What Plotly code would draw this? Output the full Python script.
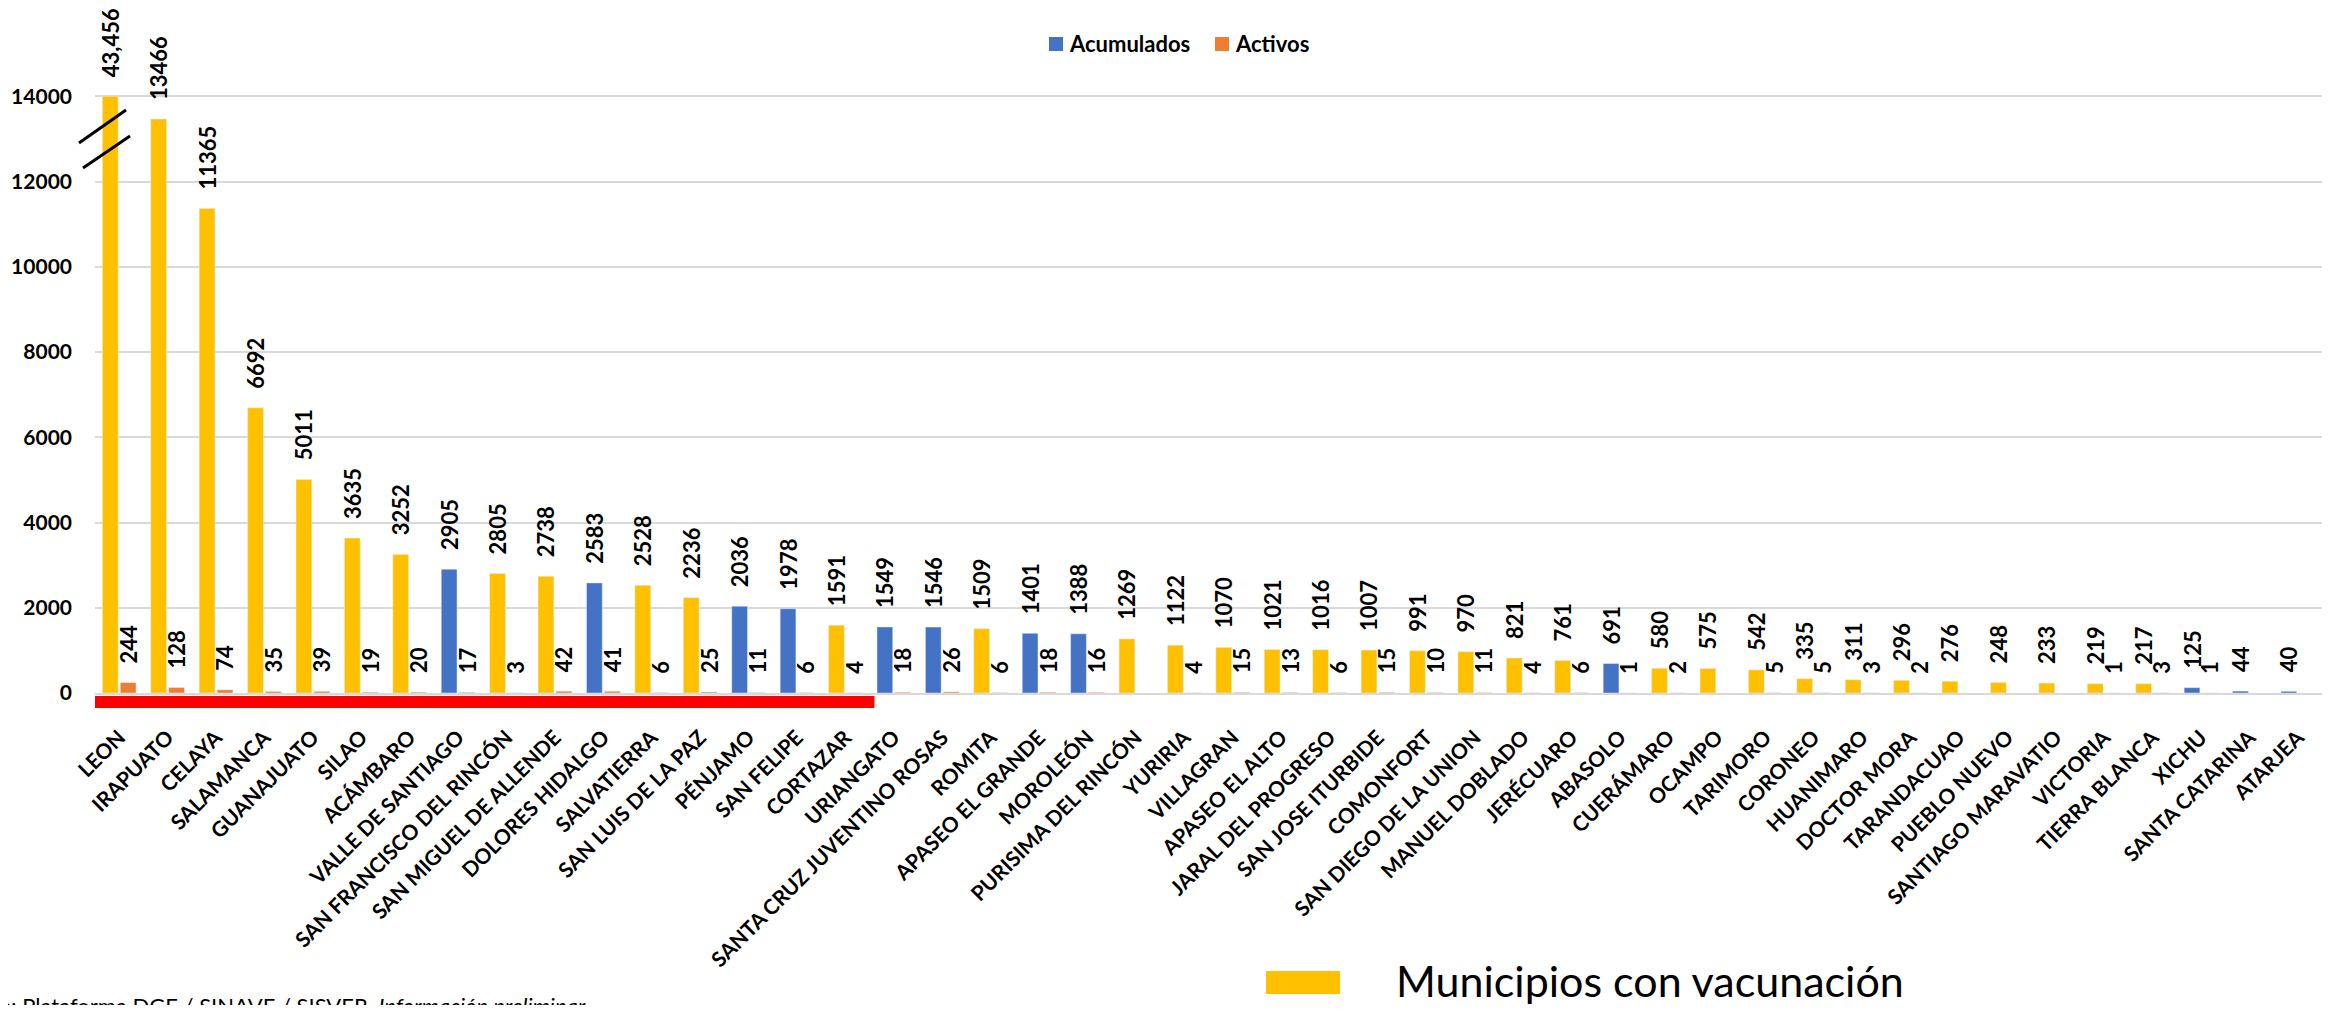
import plotly.graph_objects as go

municipios = ["LEON", "IRAPUATO", "CELAYA", "SALAMANCA", "GUANAJUATO", "SILAO", "ACÁMBARO",
              "VALLE DE SANTIAGO", "SAN FRANCISCO DEL RINCÓN", "SAN MIGUEL DE ALLENDE",
              "DOLORES HIDALGO", "SALVATIERRA", "SAN LUIS DE LA PAZ", "PÉNJAMO", "SAN FELIPE",
              "CORTAZAR", "URIANGATO", "SANTA CRUZ JUVENTINO ROSAS", "ROMITA", "APASEO EL GRANDE",
              "MOROLEÓN", "PURISIMA DEL RINCÓN", "YURIRIA", "VILLAGRAN", "APASEO EL ALTO",
              "JARAL DEL PROGRESO", "SAN JOSE ITURBIDE", "COMONFORT", "SAN DIEGO DE LA UNION",
              "MANUEL DOBLADO", "JERÉCUARO", "ABASOLO", "CUERÁMARO", "OCAMPO", "TARIMORO",
              "CORONEO", "HUANIMARO", "DOCTOR MORA", "TARANDACUAO", "PUEBLO NUEVO",
              "SANTIAGO MARAVATIO", "VICTORIA", "TIERRA BLANCA", "XICHU", "SANTA CATARINA", "ATARJEA"]

acumulados = [43456, 13466, 11365, 6692, 5011, 3635, 3252, 2905, 2805, 2738, 2583, 2528, 2236,
              2036, 1978, 1591, 1549, 1546, 1509, 1401, 1388, 1269, 1122, 1070, 1021, 1016, 1007,
              991, 970, 821, 761, 691, 580, 575, 542, 335, 311, 296, 276, 248, 233, 219, 217, 125,
              44, 40]

activos = [244, 128, 74, 35, 39, 19, 20, 17, 3, 42, 41, 6, 25, 11, 6, 4, 18, 26, 6, 18, 16, None,
           4, 15, 13, 6, 15, 10, 11, 4, 6, 1, 2, None, 5, 5, 3, 2, None, None, None, 1, 3, 1,
           None, None]

# 1 = municipality with vaccination (yellow), 0 = without (blue)
con_vacunacion = [1, 1, 1, 1, 1, 1, 1, 0, 1, 1, 0, 1, 1, 0, 0, 1, 0, 0, 1, 0, 0, 1, 1, 1, 1, 1,
                  1, 1, 1, 1, 1, 0, 1, 1, 1, 1, 1, 1, 1, 1, 1, 1, 1, 0, 0, 0]

tick_vals = [0, 2000, 4000, 6000, 8000, 10000, 12000, 14000]
axis_break = 14000

YELLOW = "#FFC000"
BLUE = "#4472C4"
ORANGE = "#ED7D31"
FONT = "Lato"
PAD = "\u00a0\u00a0\u00a0"

acum_plot = [min(v, axis_break) for v in acumulados]
acum_text = [PAD + ("{:,}".format(v) if v > axis_break else str(v)) for v in acumulados]
acum_colors = [YELLOW if c else BLUE for c in con_vacunacion]
act_text = [PAD + str(v) if v else None for v in activos]

label_font = dict(family=FONT, size=22, color="black", weight=700)

fig = go.Figure()
fig.add_trace(go.Bar(
    x=municipios, y=acum_plot, name="Acumulados", marker_color=acum_colors,
    text=acum_text, textposition="outside", textangle=-90, constraintext="none",
    textfont=label_font, cliponaxis=False, offsetgroup="acum"))
fig.add_trace(go.Bar(
    x=municipios, y=activos, name="Activos", marker_color=ORANGE,
    text=act_text, textposition="outside", textangle=-90, constraintext="none",
    textfont=label_font, cliponaxis=False, offsetgroup="act"))

# page has an 8px body margin; figure is sized to fit the window without scrollbars
OFF = 8
W, H = 2330 - 2 * OFF, 1013 - 2 * OFF
PL, PT, PB, PR = 95, 11, 693, 2322  # plot area in page pixels
L, T = PL - OFF, PT - OFF
B = H - (PB - OFF)
R = W - (PR - OFF)
pw, ph = W - L - R, H - T - B


def px(xp):
    return (xp - OFF - L) / pw


def py(yp):
    return (H - B - (yp - OFF)) / ph


shapes = [
    # red highlight under first municipalities
    dict(type="rect", xref="x", yref="paper", x0=-0.5, x1=15.6, y0=py(696), y1=py(708),
         fillcolor="#FF0000", line=dict(width=0), layer="above"),
    # axis break marks
    dict(type="line", xref="paper", yref="paper", x0=px(79), y0=py(143), x1=px(126), y1=py(110),
         line=dict(color="black", width=3)),
    dict(type="line", xref="paper", yref="paper", x0=px(83), y0=py(168), x1=px(130), y1=py(136),
         line=dict(color="black", width=3)),
    # top legend swatches
    dict(type="rect", xref="paper", yref="paper", x0=px(1049), x1=px(1063), y0=py(51), y1=py(37),
         fillcolor=BLUE, line=dict(width=0)),
    dict(type="rect", xref="paper", yref="paper", x0=px(1215), x1=px(1229), y0=py(51), y1=py(37),
         fillcolor=ORANGE, line=dict(width=0)),
    # bottom legend swatch
    dict(type="rect", xref="paper", yref="paper", x0=px(1266), x1=px(1340), y0=py(994), y1=py(971),
         fillcolor=YELLOW, line=dict(width=0)),
]

legend_font = dict(family=FONT, size=22, color="black", weight=700)
annotations = [
    dict(xref="paper", yref="paper", x=px(1067), y=py(44), xanchor="left", yanchor="middle",
         text="Acumulados", showarrow=False, font=legend_font),
    dict(xref="paper", yref="paper", x=px(1233), y=py(44), xanchor="left", yanchor="middle",
         text="Activos", showarrow=False, font=legend_font),
    dict(xref="paper", yref="paper", x=px(1394), y=py(980), xanchor="left", yanchor="middle",
         text="Municipios con vacunación", showarrow=False,
         font=dict(family=FONT, size=43, color="black")),
    dict(xref="paper", yref="paper", x=px(-58), y=py(1005), xanchor="left", yanchor="middle",
         text="Fuente: Plataforma DGE / SINAVE / SISVER. <i>Información preliminar</i>", showarrow=False,
         font=dict(family=FONT, size=22, color="black")),
]

fig.update_layout(
    width=W, height=H,
    margin=dict(l=L, r=R, t=T, b=B, autoexpand=False),
    plot_bgcolor="white", paper_bgcolor="white",
    barmode="group", bargap=0.26, bargroupgap=0.12,
    font=dict(family=FONT, color="black"),
    showlegend=False,
    shapes=shapes, annotations=annotations,
)
fig.update_yaxes(range=[0, 16000], tickvals=tick_vals, ticktext=[str(v) for v in tick_vals],
                 showgrid=True, gridcolor="#D9D9D9", gridwidth=2, zeroline=False,
                 tickfont=dict(family=FONT, size=21, color="black", weight=700),
                 ticklabelstandoff=22, showline=False)
fig.update_xaxes(tickangle=-45, tickfont=dict(family=FONT, size=21, color="black", weight=700),
                 showline=True, linecolor="#D9D9D9", linewidth=2, ticklabelstandoff=22,
                 range=[-0.5, len(municipios) - 0.5])

fig.write_html("out.html")
